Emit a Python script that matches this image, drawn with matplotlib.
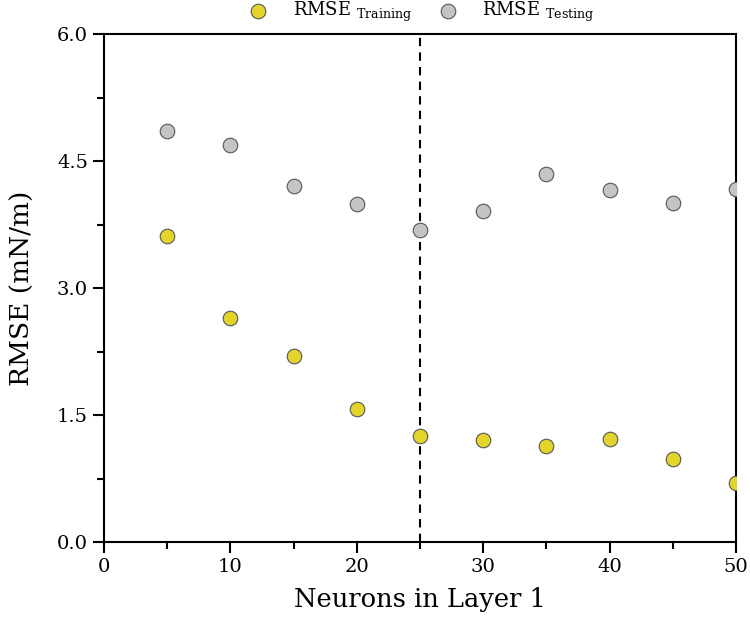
import numpy as np
import matplotlib.pyplot as plt
from matplotlib.ticker import MultipleLocator

# data
neurons = [5, 10, 15, 20, 25, 30, 35, 40, 45, 50]
rmse_train = [3.62, 2.65, 2.20, 1.57, 1.25, 1.20, 1.13, 1.22, 0.98, 0.70]
rmse_test = [4.85, 4.69, 4.20, 3.99, 3.68, 3.91, 4.35, 4.16, 4.00, 4.17]
best_neurons = 25

plt.rcParams['font.family'] = ['DejaVu Serif']
plt.rcParams['mathtext.fontset'] = 'dejavuserif'

fig = plt.figure(figsize=(7.5, 6.36), dpi=100)
ax = fig.add_axes([0.1387, 0.1478, 0.8426, 0.7987])

ax.scatter(neurons, rmse_train, s=110, color='#E3D42C', edgecolor='#555555',
           linewidth=0.8, zorder=3, label=r'RMSE $_{\mathrm{Training}}$')
ax.scatter(neurons, rmse_test, s=110, color='#C4C4C4', edgecolor='#555555',
           linewidth=0.8, zorder=3, label=r'RMSE $_{\mathrm{Testing}}$')
ax.axvline(best_neurons, color='black', linestyle=(0, (4, 3)), linewidth=1.5, zorder=2)

ax.set_xlim(0, 50)
ax.set_ylim(0, 6)
ax.xaxis.set_major_locator(MultipleLocator(10))
ax.xaxis.set_minor_locator(MultipleLocator(5))
ax.yaxis.set_major_locator(MultipleLocator(1.5))
ax.yaxis.set_minor_locator(MultipleLocator(0.75))
ax.yaxis.set_major_formatter(plt.FormatStrFormatter('%.1f'))
ax.tick_params(which='major', direction='out', length=8, width=1.5, labelsize=14)
ax.tick_params(which='minor', direction='out', length=5, width=1.5)
ax.tick_params(top=False, right=False, which='both')
for s in ax.spines.values():
    s.set_linewidth(1.5)

ax.set_xlabel('Neurons in Layer 1', fontsize=18.5, labelpad=8)
ax.set_ylabel('RMSE (mN/m)', fontsize=19, labelpad=16)

fig.legend(loc='center', bbox_to_anchor=(0.557, 0.981), ncol=2, frameon=False,
           fontsize=13, handletextpad=0.9, columnspacing=1.0, borderaxespad=0)

fig.savefig('out.png', dpi=100)
